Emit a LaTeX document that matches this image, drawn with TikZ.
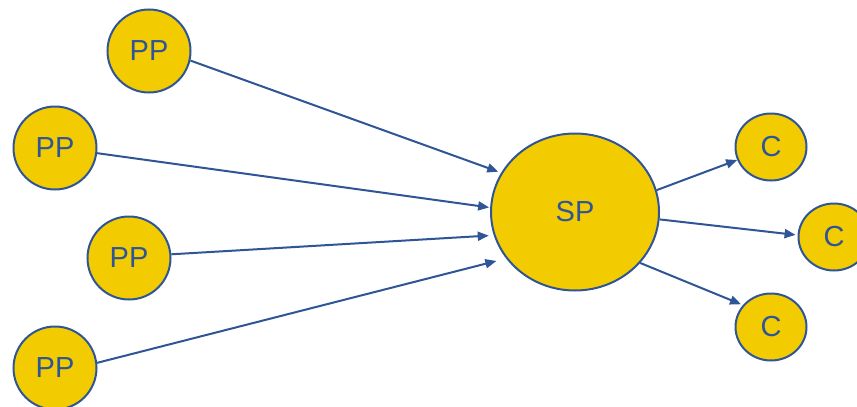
\documentclass[tikz,border=0pt]{standalone}
\usepackage{fontspec}
\setmainfont{Liberation Sans}
\usetikzlibrary{shapes.geometric,arrows.meta}
\definecolor{gold}{RGB}{242,204,0}
\definecolor{navy}{RGB}{47,85,151}
\tikzset{
  blob/.style={circle,draw=navy,line width=2pt,fill=gold,text=navy,inner sep=0pt,
    font=\fontsize{29}{34}\selectfont},
  pp/.style={blob,minimum size=83pt},
  spnode/.style={blob,ellipse,minimum width=168pt,minimum height=157pt},
  cnode/.style={blob,ellipse,minimum width=71pt,minimum height=67pt},
  link/.style={draw=navy,line width=2pt,-{Triangle[length=11pt,width=9pt]}}
}
\begin{document}
\begin{tikzpicture}[x=1pt,y=-1pt]
\useasboundingbox (0,0) rectangle (857,407);
\node[pp] (pp1) at (149,51) {PP};
\node[pp] (pp2) at (55,148) {PP};
\node[pp] (pp3) at (129,258) {PP};
\node[pp] (pp4) at (55,368) {PP};
\node[spnode] (sp) at (575,212) {SP};
\node[cnode] (c1) at (771,147) {C};
\node[cnode] (c2) at (834,237) {C};
\node[cnode] (c3) at (771,327) {C};
\draw[link,shorten >=3pt] (pp1.-13) -- (sp.152);
\draw[link,shorten >=1pt] (pp2.-7) -- (sp.177);
\draw[link,shorten >=5pt] (pp3.5) -- (sp.196);
\draw[link,shorten >=10pt] (pp4.7) -- (sp.214);
\draw[link] (sp.15) -- (c1.201);
\draw[link,shorten >=2pt] (sp.-5) -- (c2.177);
\draw[link,shorten >=2pt] (sp.-38) -- (c3.142);
\end{tikzpicture}
\end{document}
